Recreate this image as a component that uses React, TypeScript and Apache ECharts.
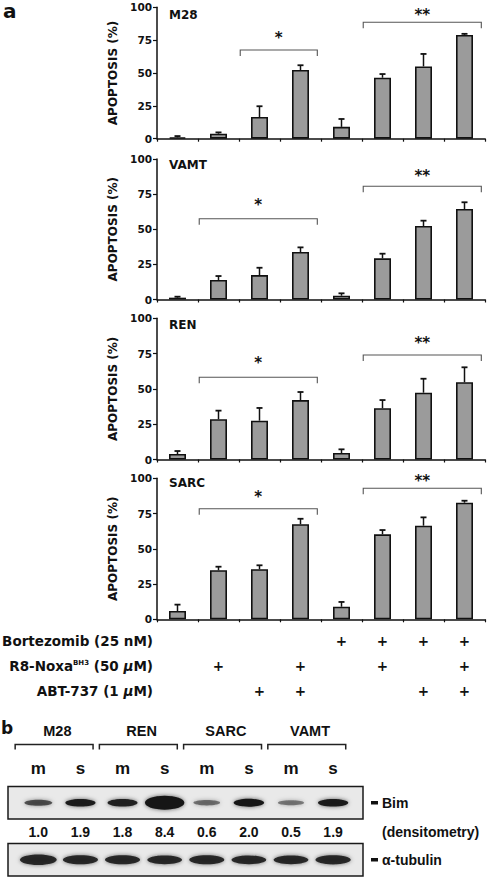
import React, { useEffect, useRef } from "react";
import * as echarts from "echarts";

// ---------- data ----------
const categories = ["1", "2", "3", "4", "5", "6", "7", "8"];
const panelNames = ["M28", "VAMT", "REN", "SARC"];

const m28Mean = [1, 3.8, 16.5, 52.3, 9, 46.4, 55, 79];
const m28Err = [1, 1, 8.2, 3.6, 6, 2.8, 9.5, 0.8];
const vamtMean = [1.3, 13.9, 17.4, 33.8, 2.7, 29.3, 52.3, 64.4];
const vamtErr = [0.7, 2.8, 5.2, 3.3, 1.7, 3.3, 3.8, 4.8];
const renMean = [3.9, 28.5, 27.5, 42.1, 4.6, 36.3, 47.3, 54.7];
const renErr = [2.1, 6.1, 9, 5.7, 2.6, 5.8, 9.9, 10.6];
const sarcMean = [5.9, 34.8, 35.5, 67.4, 8.9, 60.3, 66.4, 82.7];
const sarcErr = [4.5, 2.5, 2.8, 3.9, 3.4, 3, 5.9, 1.4];

// [startCategory, endCategory, bracketLevel, starLevel, starCount]
const m28Brackets = [[2, 3, 67.5, 79.7, 1], [5, 7, 88.6, 97, 2]];
const vamtBrackets = [[1, 3, 57.5, 70, 1], [5, 7, 80.6, 91, 2]];
const renBrackets = [[1, 3, 58.2, 71.2, 1], [5, 7, 74, 85.1, 2]];
const sarcBrackets = [[1, 3, 78.4, 89.8, 1], [5, 7, 92.9, 100.7, 2]];

const bortezomib = [0, 0, 0, 0, 1, 1, 1, 1];
const r8Noxa = [0, 1, 0, 1, 0, 1, 0, 1];
const abt737 = [0, 0, 1, 1, 0, 0, 1, 1];

const blotGroups = ["M28", "REN", "SARC", "VAMT"];
const blotLanes = ["m", "s", "m", "s", "m", "s", "m", "s"];
const bimDensitometry = [1.0, 1.9, 1.8, 8.4, 0.6, 2.0, 0.5, 1.9];
const tubulinLevel = [1.3, 1.0, 1.0, 0.95, 1.0, 0.95, 0.95, 1.05];

const panelMeans = [m28Mean, vamtMean, renMean, sarcMean];
const panelErrs = [m28Err, vamtErr, renErr, sarcErr];
const panelBrackets = [m28Brackets, vamtBrackets, renBrackets, sarcBrackets];

// ---------- layout / style ----------
const FA = '"DejaVu Sans", sans-serif';
const FB = '"Liberation Sans", Arial, sans-serif';
const panelGrids = [
  { top: 7.3, height: 131.4 },
  { top: 159, height: 140.5 },
  { top: 318.3, height: 141.2 },
  { top: 478.3, height: 141 },
];
const titleTops = [9, 159, 319, 477];

export default function App() {
  const ref = useRef<HTMLDivElement>(null);
  useEffect(() => {
    if (!ref.current) return;
    const chart = echarts.init(ref.current, null, { renderer: "svg" });

    const grids: any[] = panelGrids.map((g) => ({ left: 157, width: 328, top: g.top, height: g.height }));
    grids.push({ left: 8, top: 786.5, width: 355, height: 32.5, show: true, borderColor: "#1a1a1a", borderWidth: 1.5, backgroundColor: "#e9e9e9" });
    grids.push({ left: 8, top: 843.5, width: 355, height: 32.5, show: true, borderColor: "#1a1a1a", borderWidth: 1.5, backgroundColor: "#e9e9e9" });

    const xAxes: any[] = panelNames.map((_, i) => ({
      type: "category",
      gridIndex: i,
      data: categories,
      axisLine: { lineStyle: { color: "#111", width: 1.5 } },
      axisTick: { show: true, length: 3, lineStyle: { color: "#111", width: 1.2 } },
      axisLabel: { show: false },
    }));
    const treatLabelStyle = { fontFamily: FA, fontWeight: "bold", fontSize: 13.5, color: "#111" };
    const rich = {
      sup: { fontFamily: FA, fontWeight: "bold", fontSize: 7, verticalAlign: "top", color: "#111" },
      it: { fontFamily: FA, fontWeight: "bold", fontStyle: "italic", fontSize: 13.5, color: "#111" },
    };
    const treatRows = [
      { flags: bortezomib, name: "Bortezomib (25 nM)", offset: 21.7 },
      { flags: r8Noxa, name: "R8-Noxa{sup|BH3} (50 {it|μ}M)", offset: 46.7 },
      { flags: abt737, name: "ABT-737 (1 {it|μ}M)", offset: 71.7 },
    ];
    treatRows.forEach((r) => {
      xAxes.push({
        type: "category",
        gridIndex: 3,
        data: categories,
        position: "bottom",
        offset: r.offset,
        axisLine: { show: false },
        axisTick: { show: false },
        axisLabel: {
          interval: 0,
          margin: 0,
          verticalAlign: "middle",
          formatter: (_v: string, idx: number) => (r.flags[idx] ? "+" : ""),
          ...treatLabelStyle,
        },
        name: r.name,
        nameLocation: "start",
        nameGap: 4,
        nameTextStyle: { ...treatLabelStyle, rich },
      });
    });
    const BIM_X = xAxes.length;
    xAxes.push({ type: "value", gridIndex: 4, min: -0.72, max: 7.71, show: false });
    const TUB_X = xAxes.length;
    xAxes.push({ type: "value", gridIndex: 5, min: -0.72, max: 7.71, show: false });

    const yAxes: any[] = panelNames.map((_, i) => ({
      type: "value",
      gridIndex: i,
      min: 0,
      max: 100,
      interval: 25,
      splitLine: { show: false },
      axisLine: { show: true, lineStyle: { color: "#111", width: 1.5 } },
      axisTick: { show: true, length: 4, lineStyle: { color: "#111", width: 1.2 } },
      axisLabel: { margin: 5, fontFamily: FA, fontWeight: "bold", fontSize: 10.5, color: "#111" },
      name: "APOPTOSIS (%)",
      nameLocation: "middle",
      nameGap: 36,
      nameTextStyle: { fontFamily: FA, fontWeight: "bold", fontSize: 12, color: "#111" },
    }));
    const BIM_Y = yAxes.length;
    yAxes.push({ type: "value", gridIndex: 4, min: 0, max: 1, show: false });
    const TUB_Y = yAxes.length;
    yAxes.push({ type: "value", gridIndex: 5, min: 0, max: 1, show: false });

    const series: any[] = [];
    panelNames.forEach((name, i) => {
      const means = panelMeans[i];
      const errs = panelErrs[i];
      series.push({
        type: "bar",
        name,
        xAxisIndex: i,
        yAxisIndex: i,
        data: means,
        barWidth: 17,
        itemStyle: { color: "#9b9b9b", borderColor: "#111", borderWidth: 1.6 },
        z: 2,
      });
      series.push({
        type: "custom",
        xAxisIndex: i,
        yAxisIndex: i,
        clip: false,
        z: 3,
        data: means.map((m, j) => [j, m, m + errs[j]]),
        encode: { x: 0, y: [1, 2] },
        renderItem: (_p: any, api: any) => {
          const b = api.coord([api.value(0), api.value(1)]);
          const t = api.coord([api.value(0), api.value(2)]);
          return {
            type: "group",
            children: [
              { type: "line", shape: { x1: b[0], y1: b[1], x2: t[0], y2: t[1] }, style: { stroke: "#111", lineWidth: 1.5 } },
              { type: "line", shape: { x1: t[0] - 3, y1: t[1], x2: t[0] + 3, y2: t[1] }, style: { stroke: "#111", lineWidth: 1.8 } },
            ],
          };
        },
      });
      series.push({
        type: "custom",
        xAxisIndex: i,
        yAxisIndex: i,
        clip: false,
        z: 4,
        data: panelBrackets[i],
        encode: { x: [0, 1], y: [2, 3] },
        renderItem: (_p: any, api: any) => {
          const bw = api.size([1, 0])[0];
          const p1 = api.coord([api.value(0), api.value(2)]);
          const p2 = api.coord([api.value(1), api.value(2)]);
          const sy = api.coord([api.value(0), api.value(3)])[1];
          const x1 = p1[0] - bw * 0.47;
          const x2 = p2[0] + bw * 0.41;
          const y = p1[1];
          const n = api.value(4);
          return {
            type: "group",
            children: [
              {
                type: "polyline",
                shape: { points: [[x1, y + 6], [x1, y], [x2, y], [x2, y + 6]] },
                style: { stroke: "#555", lineWidth: 1.1, fill: "none" },
              },
              {
                type: "text",
                x: (x1 + x2) / 2,
                y: sy + 4,
                style: { text: "*".repeat(n), fill: "#111", fontFamily: FA, fontWeight: "bold", fontSize: 15, align: "center", verticalAlign: "middle" },
              },
            ],
          };
        },
      });
    });

    // Western blot: group headers
    series.push({
      type: "custom",
      xAxisIndex: BIM_X,
      yAxisIndex: BIM_Y,
      clip: false,
      data: blotGroups.map((_, k) => [2 * k, 2 * k + 1, 0.5]),
      encode: { x: [0, 1], y: 2 },
      renderItem: (params: any, api: any) => {
        const top = params.coordSys.y;
        const a = api.coord([api.value(0), 0.5]);
        const b = api.coord([api.value(1), 0.5]);
        const step = b[0] - a[0];
        const x1 = a[0] - step * 0.55;
        const x2 = b[0] + step * 0.3;
        const y = top - 42;
        return {
          type: "group",
          children: [
            { type: "polyline", shape: { points: [[x1, y + 5], [x1, y], [x2, y], [x2, y + 5]] }, style: { stroke: "#222", lineWidth: 1.5, fill: "none" } },
            {
              type: "text",
              x: (a[0] + b[0]) / 2 - 2,
              y: top - 56,
              style: { text: blotGroups[params.dataIndex], fill: "#111", fontFamily: FB, fontWeight: "bold", fontSize: 14.5, align: "center", verticalAlign: "middle" },
            },
          ],
        };
      },
    });
    // Bim lanes
    series.push({
      type: "custom",
      xAxisIndex: BIM_X,
      yAxisIndex: BIM_Y,
      clip: false,
      data: bimDensitometry.map((v, i) => [i, 0.5, v]),
      encode: { x: 0, y: 1 },
      renderItem: (params: any, api: any) => {
        const cs = params.coordSys;
        const c = api.coord([api.value(0), api.value(1)]);
        const v = api.value(2);
        const rx = 11 + 3 * Math.sqrt(v);
        const ry = 1.1 + 2 * Math.sqrt(v);
        const op = Math.min(1, 0.3 + 0.35 * v);
        return {
          type: "group",
          children: [
            {
              type: "ellipse",
              shape: { cx: c[0], cy: c[1], rx, ry },
              style: { fill: "#151515", opacity: op, shadowBlur: 4, shadowColor: "rgba(0,0,0,0.6)" },
            },
            {
              type: "text",
              x: c[0],
              y: cs.y - 18,
              style: { text: blotLanes[params.dataIndex], fill: "#111", fontFamily: FB, fontWeight: "bold", fontSize: 17, align: "center", verticalAlign: "middle" },
            },
            {
              type: "text",
              x: c[0],
              y: cs.y + cs.height + 13,
              style: { text: v.toFixed(1), fill: "#111", fontFamily: FB, fontWeight: "bold", fontSize: 14, align: "center", verticalAlign: "middle" },
            },
          ],
        };
      },
    });
    // tubulin lanes
    series.push({
      type: "custom",
      xAxisIndex: TUB_X,
      yAxisIndex: TUB_Y,
      clip: false,
      data: tubulinLevel.map((v, i) => [i, 0.5, v]),
      encode: { x: 0, y: 1 },
      renderItem: (_p: any, api: any) => {
        const c = api.coord([api.value(0), api.value(1)]);
        const v = api.value(2);
        return {
          type: "ellipse",
          shape: { cx: c[0], cy: c[1], rx: 14.5 + 3 * v, ry: 2 + 2.5 * v },
          style: { fill: "#141414", opacity: 0.88, shadowBlur: 4, shadowColor: "rgba(0,0,0,0.6)" },
        };
      },
    });

    const textStyleA = { fontFamily: FA, fontWeight: "bold", fontSize: 12, color: "#111" };

    chart.setOption({
      animation: false,
      backgroundColor: "#ffffff",
      title: panelNames.map((n, i) => ({ text: n, left: 169, top: titleTops[i], padding: 0, textStyle: textStyleA })),
      grid: grids,
      xAxis: xAxes,
      yAxis: yAxes,
      series,
      graphic: [
        { type: "text", left: 3, top: 1, style: { text: "a", fill: "#111", font: `bold 20px ${FA}` } },
        { type: "text", left: 1, top: 719, style: { text: "b", fill: "#111", font: `bold 17px ${FA}` } },
        { type: "rect", shape: { x: 371, y: 801, width: 7, height: 3.5 }, style: { fill: "#111" } },
        { type: "text", x: 382, y: 802.5, style: { text: "Bim", fill: "#111", font: `bold 14px ${FB}`, verticalAlign: "middle" } },
        { type: "text", x: 382, y: 832, style: { text: "(densitometry)", fill: "#111", font: `bold 14px ${FB}`, verticalAlign: "middle" } },
        { type: "rect", shape: { x: 371, y: 858, width: 7, height: 3.5 }, style: { fill: "#111" } },
        { type: "text", x: 382, y: 859.5, style: { text: "α-tubulin", fill: "#111", font: `bold 14px ${FB}`, verticalAlign: "middle" } },
      ],
    });
    return () => chart.dispose();
  }, []);

  return (
    <div
      ref={ref}
      style={{ position: "absolute", left: 0, top: 0, width: 489, height: 879, background: "#fff" }}
    />
  );
}
